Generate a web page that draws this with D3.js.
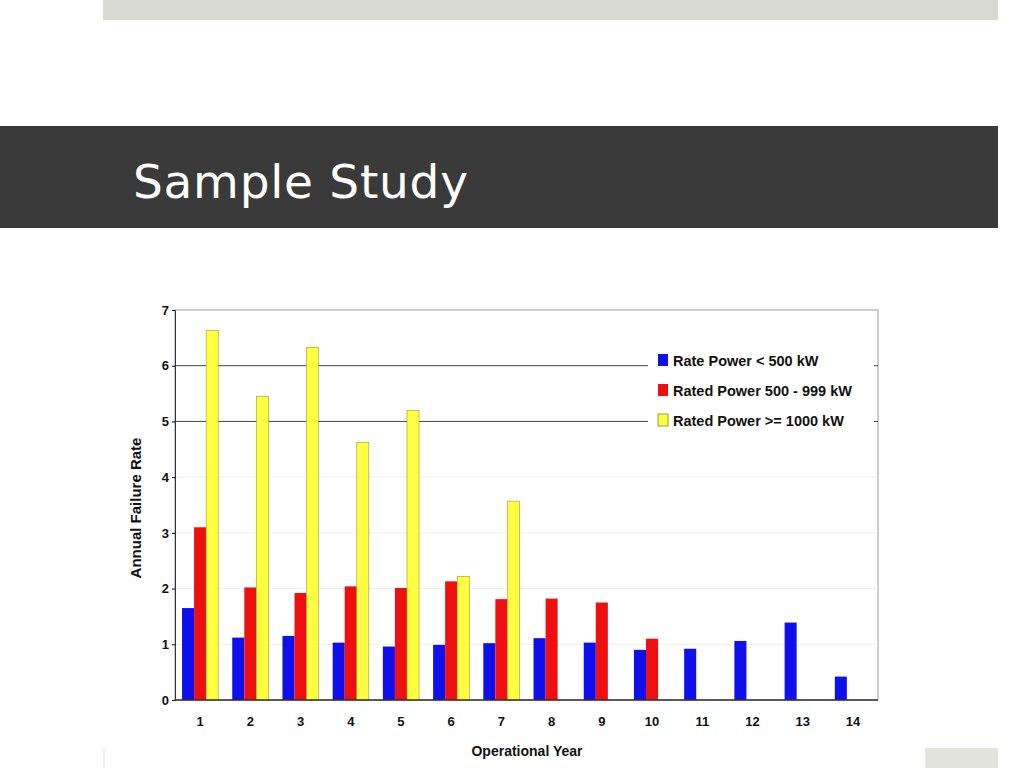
<!DOCTYPE html>
<html><head><meta charset="utf-8">
<script src="https://cdn.jsdelivr.net/npm/d3@7"></script>
<style>body{margin:0;background:#fff}svg{display:block}</style></head>
<body><svg id="c" width="1024" height="768"></svg>
<script>
const years=["1","2","3","4","5","6","7","8","9","10","11","12","13","14"];
const seriesNames=["Rate Power < 500 kW","Rated Power 500 - 999 kW","Rated Power >= 1000 kW"];
const seriesColors=["#1010ee","#ee1010","#ffff40"];
const small=[1.65,1.12,1.15,1.03,0.96,0.99,1.02,1.11,1.03,0.90,0.92,1.06,1.39,0.42];
const medium=[3.10,2.02,1.92,2.04,2.01,2.13,1.81,1.82,1.75,1.10,null,null,null,null];
const large=[6.63,5.45,6.33,4.62,5.20,2.22,3.57,null,null,null,null,null,null,null];
const yTicks=[0,1,2,3,4,5,6,7];
const series=[small,medium,large];

const svg=d3.select("#c");
svg.append("rect").attr("x",103).attr("y",0).attr("width",895).attr("height",20).attr("fill","#d8d9d0");
svg.append("rect").attr("x",0).attr("y",126).attr("width",998).attr("height",102).attr("fill","#3a3a3a");
svg.append("text").attr("x",133).attr("y",198).attr("fill","#fff").attr("font-family","DejaVu Sans").attr("font-size",47).attr("textLength",335).text("Sample Study");
svg.append("rect").attr("x",925).attr("y",748).attr("width",73).attr("height",20).attr("fill","#e2e3dc");
svg.append("line").attr("x1",104).attr("x2",104).attr("y1",748).attr("y2",768).attr("stroke","#ddd");

const L=175,R=878,T=310,B=700;
const y=d3.scaleLinear().domain([0,7]).range([B,T]);
const x=d3.scaleBand().domain(years).range([L,R]).paddingInner(0.28).paddingOuter(0.14);
const xs=d3.scaleBand().domain([0,1,2]).range([0,x.bandwidth()]);
const g=svg.append("g");
g.append("rect").attr("x",L).attr("y",T).attr("width",R-L).attr("height",B-T).attr("fill","#fff").attr("stroke","#999");
yTicks.slice(1,7).forEach(t=>{
  g.append("line").attr("x1",L).attr("x2",R).attr("y1",y(t)).attr("y2",y(t))
   .attr("stroke",(t===5||t===6)?"#444":"#eee").attr("stroke-width",1);
});
series.forEach((s,i)=>{
  g.selectAll(null).data(s.map((v,j)=>({v,j})).filter(d=>d.v!=null)).enter().append("rect")
   .attr("x",d=>x(years[d.j])+xs(i)).attr("width",xs.bandwidth())
   .attr("y",d=>y(d.v)).attr("height",d=>B-y(d.v))
   .attr("fill",seriesColors[i]).attr("stroke",i===2?"#999933":"none").attr("stroke-width",0.6);
});
g.append("line").attr("x1",L).attr("x2",R).attr("y1",B).attr("y2",B).attr("stroke","#333").attr("stroke-width",1.5);
const ya=g.append("g").attr("transform",`translate(${L},0)`).call(d3.axisLeft(y).tickValues(yTicks).tickSize(3).tickFormat(d3.format("d")));
ya.select(".domain").attr("stroke","#333");
ya.selectAll("text").attr("font-family","Liberation Sans").attr("font-weight","bold").attr("font-size",13).attr("fill","#111");
const xa=g.append("g").attr("transform",`translate(0,${B})`).call(d3.axisBottom(x).tickSize(0).tickPadding(17));
xa.select(".domain").remove();
xa.selectAll("text").attr("font-family","Liberation Sans").attr("font-weight","bold").attr("font-size",13).attr("fill","#111");
g.append("text").attr("x",527).attr("y",756).attr("text-anchor","middle").attr("font-family","Liberation Sans").attr("font-weight","bold").attr("font-size",14).attr("fill","#111").text("Operational Year");
g.append("text").attr("transform","translate(141,508) rotate(-90)").attr("text-anchor","middle").attr("font-family","Liberation Sans").attr("font-weight","bold").attr("font-size",15).attr("fill","#111").text("Annual Failure Rate");
// legend
g.append("rect").attr("x",648).attr("y",343).attr("width",226).attr("height",94).attr("fill","#fff");
seriesNames.forEach((n,i)=>{
  const yy=361+i*30;
  g.append("rect").attr("x",658).attr("y",yy-7).attr("width",10).attr("height",12).attr("fill",seriesColors[i]).attr("stroke",i===2?"#999933":"none");
  g.append("text").attr("x",673).attr("y",yy+5).attr("font-family","Liberation Sans").attr("font-weight","bold").attr("font-size",14.5).attr("fill","#111").text(n);
});
</script></body></html>
